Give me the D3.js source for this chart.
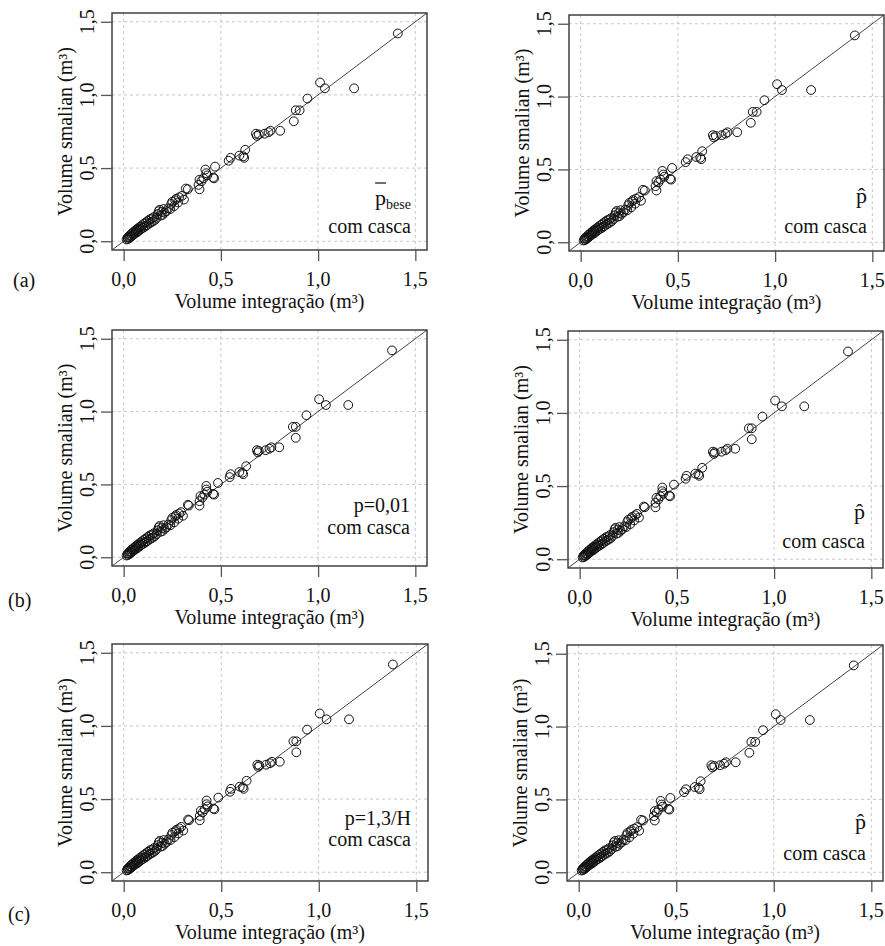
<!DOCTYPE html>
<html><head><meta charset="utf-8">
<script src="https://cdn.jsdelivr.net/npm/d3@7"></script>
<style>
body{margin:0;background:#fff}
svg{display:block}
</style>
</head><body>
<svg id="c" width="885" height="946" font-family="'Liberation Serif', 'DejaVu Serif', 'Times New Roman', Times, serif"></svg>
<script>
// ---- data ----
// Volume smalian (y) is the same in every panel
const smalian = [
 0.012,0.025,0.015,0.030,0.022,0.040,0.030,0.050,0.035,0.055,0.045,0.065,0.050,0.072,0.058,0.080,0.062,0.085,0.070,0.095,
 0.078,0.100,0.085,0.110,0.092,0.120,0.100,0.130,0.110,0.140,0.120,0.150,0.128,0.155,0.135,0.165,0.145,0.160,0.185,0.205,
 0.215,0.175,0.200,0.180,0.220,0.195,0.205,0.225,0.220,0.255,0.270,0.240,0.280,0.290,0.265,0.300,0.310,0.285,
 0.360,0.355,0.385,0.355,0.420,0.410,0.430,0.490,0.465,0.450,0.435,0.430,0.510,0.550,0.570,0.585,0.580,0.570,0.625,
 0.735,0.720,0.730,0.735,0.745,0.755,0.755,0.820,0.895,0.895,0.975,1.085,1.045,1.045,1.420
];
// Volume integração (x): panels (a) and (c) right
const integA = [
 0.015,0.020,0.022,0.025,0.030,0.032,0.035,0.040,0.042,0.045,0.050,0.052,0.055,0.060,0.062,0.065,0.070,0.072,0.075,0.080,
 0.085,0.088,0.090,0.095,0.100,0.105,0.110,0.115,0.120,0.125,0.130,0.135,0.140,0.145,0.150,0.155,0.160,0.170,0.175,0.180,
 0.185,0.190,0.195,0.200,0.205,0.210,0.220,0.230,0.240,0.245,0.250,0.260,0.265,0.270,0.280,0.285,0.300,0.310,
 0.320,0.330,0.385,0.390,0.390,0.400,0.410,0.420,0.425,0.430,0.460,0.465,0.470,0.540,0.550,0.595,0.615,0.620,0.625,
 0.680,0.685,0.695,0.725,0.745,0.755,0.805,0.875,0.885,0.905,0.945,1.010,1.035,1.185,1.410
];
// Volume integração (x): panels (b) and (c) left
const integB = [
 0.015,0.020,0.022,0.025,0.030,0.032,0.035,0.040,0.042,0.045,0.050,0.052,0.055,0.060,0.062,0.065,0.070,0.072,0.075,0.080,
 0.085,0.088,0.090,0.095,0.100,0.105,0.110,0.115,0.120,0.125,0.130,0.135,0.140,0.145,0.150,0.155,0.160,0.170,0.175,0.180,
 0.185,0.190,0.195,0.200,0.205,0.210,0.220,0.230,0.240,0.245,0.250,0.260,0.265,0.270,0.280,0.285,0.295,0.305,
 0.330,0.335,0.390,0.390,0.395,0.405,0.415,0.425,0.425,0.430,0.460,0.465,0.485,0.545,0.550,0.595,0.610,0.615,0.630,
 0.685,0.690,0.695,0.730,0.750,0.760,0.800,0.885,0.870,0.885,0.940,1.005,1.040,1.155,1.380
];
const tickValues = [0, 0.5, 1.0, 1.5];
const tickLabels = ["0,0", "0,5", "1,0", "1,5"];
const xTitle = "Volume integração (m³)";
const yTitle = "Volume smalian (m³)";
const panelTags = ["(a)", "", "(b)", "", "(c)", ""];
const methodLabels = ["bar", "hat", "p=0,01", "hat", "p=1,3/H", "hat"];
const panelSeries = ["A", "A", "B", "B", "B", "A"];
const barText = "p", barSub = "bese", hatText = "p\u0302";
const subLabel = "com casca";
const domain = [-0.06, 1.56];

// ---- layout ----
const layout = [
 {box:[112,13,427,250],  tag:[13,287], meth:[-16,-45], com:[-16,-17]},
 {box:[569,15,884,251],  meth:[-17,-48], com:[-17,-18]},
 {box:[112,330,427,566], tag:[8,607],  meth:[-17,-54], com:[-17,-32]},
 {box:[568,331,883,568], meth:[-18,-49], com:[-18,-20]},
 {box:[112,644,428,881], tag:[8,921],  meth:[-17,-56], com:[-17,-35]},
 {box:[567,645,883,881], meth:[-17,-52], com:[-17,-21]}
];

const svg = d3.select("#c");
svg.append("rect").attr("width",885).attr("height",946).attr("fill","#fff");

layout.forEach((L, i) => {
  const [x0, y0, x1, y1] = L.box;
  const xs = d3.scaleLinear(domain, [x0, x1]);
  const ys = d3.scaleLinear(domain, [y1, y0]);
  const xv = panelSeries[i] === "A" ? integA : integB;
  const pts = smalian.map((s, k) => ({x: xv[k], y: s}));
  const g = svg.append("g").attr("fill", "#111");
  const cid = "clip" + i;
  g.append("clipPath").attr("id", cid).append("rect")
    .attr("x", x0).attr("y", y0).attr("width", x1 - x0).attr("height", y1 - y0);

  // grid
  const grid = g.append("g").attr("stroke", "#c8c8c8").attr("stroke-width", 1)
    .attr("stroke-dasharray", "3,3").attr("fill", "none");
  tickValues.forEach(v => {
    grid.append("line").attr("x1", xs(v)).attr("x2", xs(v)).attr("y1", y0).attr("y2", y1);
    grid.append("line").attr("y1", ys(v)).attr("y2", ys(v)).attr("x1", x0).attr("x2", x1);
  });

  // 1:1 line
  g.append("line").attr("clip-path", `url(#${cid})`)
    .attr("x1", xs(domain[0])).attr("y1", ys(domain[0]))
    .attr("x2", xs(domain[1])).attr("y2", ys(domain[1]))
    .attr("stroke", "#444").attr("stroke-width", 1);

  // points
  g.append("g").selectAll("circle").data(pts).join("circle")
    .attr("cx", d => xs(d.x)).attr("cy", d => ys(d.y)).attr("r", 4.4)
    .attr("fill", "none").attr("stroke", "#111").attr("stroke-width", 1);

  // box
  g.append("rect").attr("x", x0).attr("y", y0).attr("width", x1 - x0).attr("height", y1 - y0)
    .attr("fill", "none").attr("stroke", "#333").attr("stroke-width", 1.4);

  // axes (ticks + labels)
  const xa = d3.axisBottom(xs).tickValues(tickValues).tickSize(11).tickFormat(() => "");
  const ya = d3.axisLeft(ys).tickValues(tickValues).tickSize(11).tickFormat(() => "");
  const gx = g.append("g").attr("transform", `translate(0,${y1})`).call(xa);
  const gy = g.append("g").attr("transform", `translate(${x0},0)`).call(ya);
  [gx, gy].forEach(a => {
    a.attr("font-family", null);
    a.select(".domain").remove();
    a.selectAll("text").remove();
    a.selectAll("line").attr("stroke", "#555").attr("stroke-width", 1.3);
  });
  tickValues.forEach((v, k) => {
    g.append("text").attr("x", xs(v)).attr("y", y1 + 36).attr("text-anchor", "middle")
      .attr("font-size", 20).text(tickLabels[k]);
    g.append("text").attr("transform", `translate(${x0 - 18},${ys(v)}) rotate(-90)`)
      .attr("text-anchor", "middle").attr("font-size", 20).text(tickLabels[k]);
  });

  // titles
  g.append("text").attr("x", (x0 + x1) / 2).attr("y", y1 + 58).attr("text-anchor", "middle")
    .attr("font-size", 20).text(xTitle);
  g.append("text").attr("transform", `translate(${x0 - 40},${(y0 + y1) / 2}) rotate(-90)`)
    .attr("text-anchor", "middle").attr("font-size", 20).text(yTitle);

  // panel tag
  if (panelTags[i]) {
    g.append("text").attr("x", L.tag[0]).attr("y", L.tag[1]).attr("font-size", 20).text(panelTags[i]);
  }

  // annotations
  const rx = x1 + L.com[0];
  g.append("text").attr("x", rx).attr("y", y1 + L.com[1]).attr("text-anchor", "end")
    .attr("font-size", 20).text(subLabel);
  const m = methodLabels[i];
  const mx = x1 + L.meth[0], my = y1 + L.meth[1];
  if (m === "bar") {
    const t = g.append("text").attr("x", mx).attr("y", my).attr("text-anchor", "end");
    t.append("tspan").attr("font-size", 22).text(barText);
    t.append("tspan").attr("font-size", 14).attr("dy", 4).text(barSub);
    const bb = t.node().getBBox();
    g.append("line").attr("x1", bb.x).attr("x2", bb.x + 11)
      .attr("y1", my - 22).attr("y2", my - 22).attr("stroke", "#111").attr("stroke-width", 1.2);
  } else if (m === "hat") {
    g.append("text").attr("x", mx).attr("y", my).attr("text-anchor", "end")
      .attr("font-size", 22).text(hatText);
  } else {
    g.append("text").attr("x", mx).attr("y", my).attr("text-anchor", "end")
      .attr("font-size", 20).text(m);
  }
});
</script>
</body></html>
